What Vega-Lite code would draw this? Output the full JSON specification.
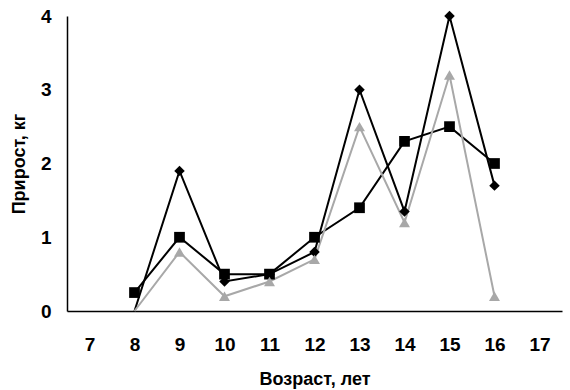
{
  "$schema": "https://vega.github.io/schema/vega-lite/v6.json",
  "autosize": "none",
  "width": 495,
  "height": 295,
  "padding": {"left": 67, "top": 16, "right": 8, "bottom": 79},
  "background": "white",
  "config": {"view": {"stroke": null}, "font": "Liberation Sans"},
  "data": {"values": [
    {"age": "7", "s": "A", "v": null},
    {"age": "8", "s": "A", "v": 0},
    {"age": "9", "s": "A", "v": 1.9},
    {"age": "10", "s": "A", "v": 0.4},
    {"age": "11", "s": "A", "v": 0.5},
    {"age": "12", "s": "A", "v": 0.8},
    {"age": "13", "s": "A", "v": 3.0},
    {"age": "14", "s": "A", "v": 1.35},
    {"age": "15", "s": "A", "v": 4.0},
    {"age": "16", "s": "A", "v": 1.7},
    {"age": "17", "s": "A", "v": null},
    {"age": "8", "s": "B", "v": 0.25},
    {"age": "9", "s": "B", "v": 1.0},
    {"age": "10", "s": "B", "v": 0.5},
    {"age": "11", "s": "B", "v": 0.5},
    {"age": "12", "s": "B", "v": 1.0},
    {"age": "13", "s": "B", "v": 1.4},
    {"age": "14", "s": "B", "v": 2.3},
    {"age": "15", "s": "B", "v": 2.5},
    {"age": "16", "s": "B", "v": 2.0},
    {"age": "8", "s": "C", "v": 0},
    {"age": "9", "s": "C", "v": 0.8},
    {"age": "10", "s": "C", "v": 0.2},
    {"age": "11", "s": "C", "v": 0.4},
    {"age": "12", "s": "C", "v": 0.7},
    {"age": "13", "s": "C", "v": 2.5},
    {"age": "14", "s": "C", "v": 1.2},
    {"age": "15", "s": "C", "v": 3.2},
    {"age": "16", "s": "C", "v": 0.2}
  ]},
  "encoding": {
    "x": {
      "field": "age", "type": "ordinal",
      "sort": ["7","8","9","10","11","12","13","14","15","16","17"],
      "scale": {"domain": ["7","8","9","10","11","12","13","14","15","16","17"], "paddingInner": 0, "paddingOuter": 0},
      "axis": {"title": "Возраст, лет", "labelAngle": 0, "ticks": false, "domainColor": "black", "domainWidth": 1.5,
               "labelFont": "Liberation Sans", "labelFontSize": 19, "labelFontWeight": "bold", "labelColor": "black", "labelPadding": 24,
               "titleFont": "Liberation Sans", "titleFontSize": 18, "titleFontWeight": "bold", "titleColor": "black", "titlePadding": 16}
    },
    "y": {
      "field": "v", "type": "quantitative",
      "scale": {"domain": [0, 4], "nice": false},
      "axis": {"title": "Прирост, кг", "values": [0,1,2,3,4], "format": "d", "ticks": false, "grid": false, "domainColor": "black", "domainWidth": 1.5,
               "labelFont": "Liberation Sans", "labelFontSize": 19, "labelFontWeight": "bold", "labelColor": "black", "labelPadding": 16,
               "titleFont": "Liberation Sans", "titleFontSize": 18, "titleFontWeight": "bold", "titleColor": "black", "titlePadding": 12}
    },
    "color": {"field": "s", "type": "nominal", "legend": null,
      "scale": {"domain": ["A","B","C"], "range": ["#000000", "#000000", "#a8a8a8"]}},
    "detail": {"field": "s"}
  },
  "layer": [
    {"mark": {"type": "line", "strokeWidth": 2}, "transform": [{"filter": "datum.v != null"}],
     "encoding": {"strokeWidth": {"field": "s", "type": "nominal", "legend": null, "scale": {"domain": ["A","B","C"], "range": [2, 2, 1.5]}}}},
    {"mark": {"type": "point", "filled": true, "opacity": 1},
     "transform": [{"filter": "datum.v != null && datum.v > 0"}],
     "encoding": {
       "shape": {"field": "s", "type": "nominal", "legend": null, "scale": {"domain": ["A","B","C"], "range": ["diamond", "square", "triangle-up"]}},
       "size": {"field": "s", "type": "nominal", "legend": null, "scale": {"domain": ["A","B","C"], "range": [110, 120, 65]}}
     }}
  ]
}
